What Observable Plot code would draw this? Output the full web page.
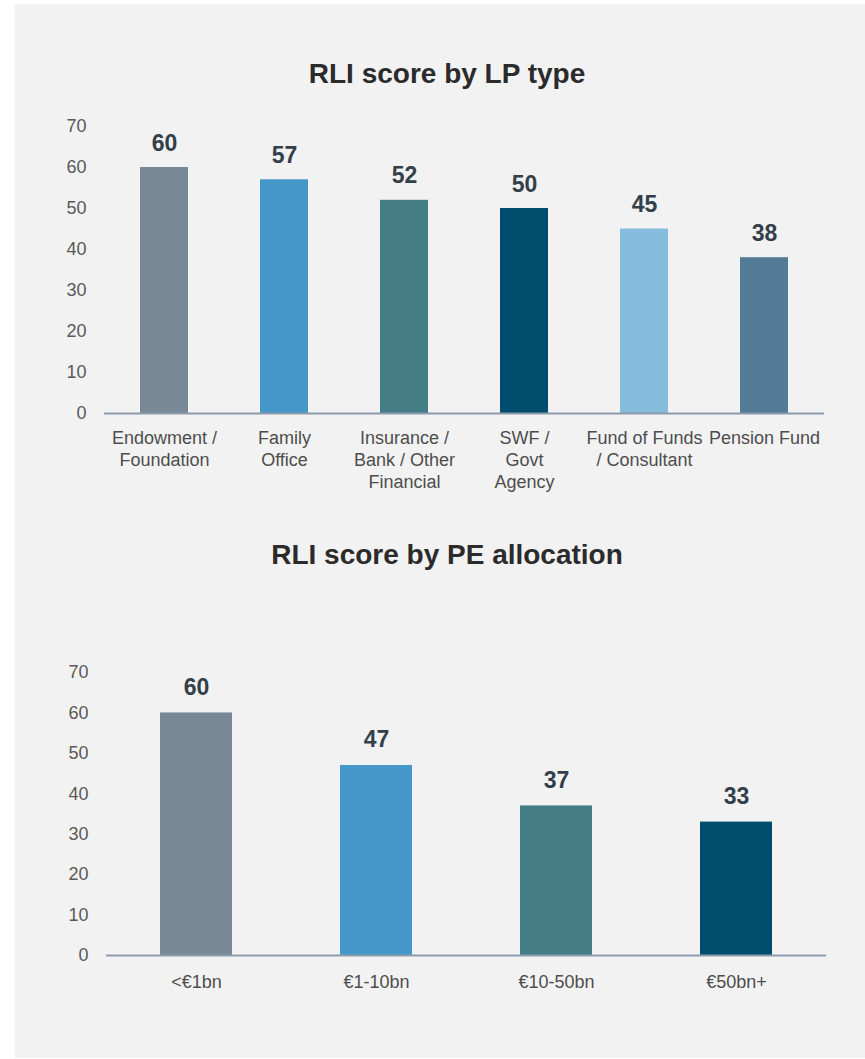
<!DOCTYPE html>
<html>
<head>
<meta charset="utf-8">
<script src="https://cdn.jsdelivr.net/npm/d3@7"></script>
<script src="https://cdn.jsdelivr.net/npm/@observablehq/plot@0.6"></script>
<style>
  html, body { margin: 0; padding: 0; background: #ffffff; }
  body { width: 865px; height: 1059px; position: relative; overflow: hidden;
         font-family: "Liberation Sans", Arial, Helvetica, sans-serif; }
  #panel { position: absolute; left: 15px; top: 4px; width: 850px; height: 1054px; background: #f2f2f2; }
  .title { position: absolute; left: 0; width: 894px; text-align: center; font-size: 28px; line-height: 28px;
           font-weight: bold; color: #2b2b2b; }
  .chart { position: absolute; left: 0; }
  .chart svg { background: transparent !important; overflow: visible; }
</style>
</head>
<body>
<div id="panel"></div>
<div class="title" style="top:60px">RLI score by LP type</div>
<div class="chart" id="c1" style="top:100px"></div>
<div class="title" style="top:541px">RLI score by PE allocation</div>
<div class="chart" id="c2" style="top:640px"></div>
<script>
// Chart 1: RLI score by LP type
const lpTypes = ["Endowment /\nFoundation", "Family\nOffice", "Insurance /\nBank / Other\nFinancial", "SWF /\nGovt\nAgency", "Fund of Funds\n/ Consultant", "Pension Fund"];
const lpScores = [60, 57, 52, 50, 45, 38];
const lpColors = ["#788896", "#4597c9", "#457d87", "#004d6e", "#86bcdd", "#537b96"];

// Chart 2: RLI score by PE allocation
const peBuckets = ["<€1bn", "€1-10bn", "€10-50bn", "€50bn+"];
const peScores = [60, 47, 37, 33];
const peColors = ["#788896", "#4597c9", "#457d87", "#004d6e"];

const yTicks = [0, 10, 20, 30, 40, 50, 60, 70];

const lpData = lpTypes.map((c, i) => ({cat: c, v: lpScores[i]}));
const peData = peBuckets.map((c, i) => ({cat: c, v: peScores[i]}));

const font = "'Liberation Sans', Arial, Helvetica, sans-serif";

function makeChart(data, cats, colors, opts) {
  return Plot.plot({
    width: 865,
    height: opts.height,
    marginLeft: opts.ml,
    marginRight: opts.mr,
    marginTop: opts.mt,
    marginBottom: opts.mb,
    style: {background: "transparent", fontFamily: font, overflow: "visible"},
    x: {domain: cats, paddingInner: 0.6, paddingOuter: 0.3, align: 0.5, axis: null},
    y: {domain: [0, 70], ticks: yTicks},
    color: {domain: cats, range: colors},
    marks: [
      Plot.axisY({ticks: yTicks, tickSize: 0, tickPadding: 18, fontSize: 18, color: "#595959", label: null, textAnchor: "end"}),
      Plot.barY(data, {x: "cat", y: "v", fill: "cat"}),
      Plot.ruleY([0], {stroke: "#8c9bab", strokeWidth: 2}),
      Plot.text(data, {x: "cat", y: 0, text: "cat", dy: opts.labelDy, lineAnchor: "top", lineHeight: 1.22,
                       fontSize: 18, fill: "#4d4d4d"}),
      Plot.text(data, {x: "cat", y: "v", text: d => String(d.v), dy: opts.valDy, lineAnchor: "bottom",
                       fontSize: 23, fontWeight: "bold", fill: "#333f4a"})
    ]
  });
}

document.getElementById("c1").appendChild(
  makeChart(lpData, lpTypes, lpColors, {height: 400, ml: 104, mr: 41, mt: 26, mb: 87, labelDy: 15, valDy: -17})
);
document.getElementById("c2").appendChild(
  makeChart(peData, peBuckets, peColors, {height: 380, ml: 106, mr: 39, mt: 32, mb: 65, labelDy: 17, valDy: -18})
);
</script>
</body>
</html>
